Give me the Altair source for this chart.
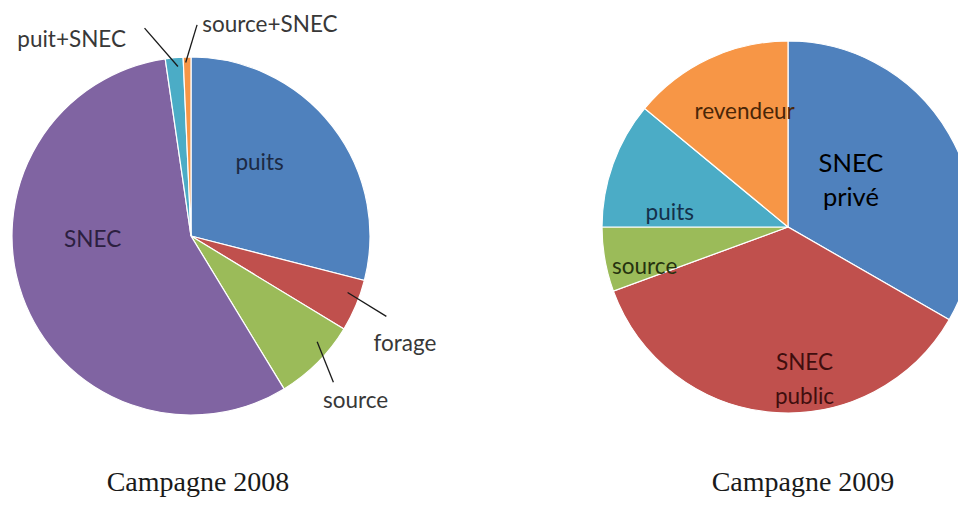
import math
import altair as alt
import pandas as pd

# ---------------- data ----------------
labels_2008 = ["puits", "forage", "source", "SNEC", "puit+SNEC", "source+SNEC"]
values_2008 = [29.0, 4.7, 7.6, 56.4, 1.6, 0.7]

labels_2009 = ["SNEC privé", "SNEC public", "source", "puits", "revendeur"]
values_2009 = [33.3, 36.1, 5.6, 11.0, 14.0]

titles = ["Campagne 2008", "Campagne 2009"]

# ---------------- styles / layout ----------------
colors_2008 = ["#4F81BD", "#C0504D", "#9BBB59", "#8064A2", "#4BACC6", "#F79646"]
colors_2009 = ["#4F81BD", "#C0504D", "#9BBB59", "#4BACC6", "#F79646"]

W, H = 950, 490
CX08, CY08, R08 = 183, 228, 179
CX09, CY09, R09 = 780, 219, 186
LINE_H = 34

# label placement: (angle offset from slice middle in deg, radius factor, font size, colour, text)
lay_2008 = {
    "puits": (-9.0, 0.56, 22.5, "#1c2a44", "puits"),
    "SNEC": (17.5, 0.55, 22.5, "#2c2040", "SNEC"),
    "forage": (4.0, 1.34, 22.5, "#383838", "forage"),
    "source": (0.0, 1.30, 22.5, "#383838", "source"),
    "puit+SNEC": (-26.0, 1.28, 22.5, "#383838", "puit+SNEC"),
    "source+SNEC": (21.75, 1.26, 22.5, "#383838", "source+SNEC"),
}
lead_2008 = {  # (ang off 1, r1, ang off 2, r2)
    "forage": (-3.0, 0.93, -0.5, 1.18),
    "source": (-5.0, 0.92, 0.75, 1.14),
    "puit+SNEC": (1.0, 0.95, -7.2, 1.19),
    "source+SNEC": (-0.5, 0.97, 2.9, 1.18),
}
lay_2009 = {
    "SNEC privé": (-6.3, 0.42, 25.5, "#000000", "SNEC\nprivé"),
    "SNEC public": (-11.0, 0.83, 22.5, "#3f0e0e", "SNEC\npublic"),
    "source": (-5.5, 0.80, 22.5, "#26330f", "source"),
    "puits": (-13.0, 0.64, 22.5, "#14304a", "puits"),
    "revendeur": (4.5, 0.66, 22.5, "#4a2608", "revendeur"),
}


def polar(cx, cy, ang, r):
    a = math.radians(ang)
    return cx + r * math.sin(a), cy - r * math.cos(a)


def mids(values):
    tot = sum(values)
    out, acc = [], 0.0
    for v in values:
        out.append((acc + v / 2) / tot * 360.0)
        acc += v
    return out


def pie(labels, values, colors, cx, cy, r):
    df = pd.DataFrame({"label": labels, "value": values, "idx": list(range(len(labels)))})
    return alt.Chart(df).mark_arc(outerRadius=r, stroke="white", strokeWidth=1.2).encode(
        theta=alt.Theta("value:Q", stack=True),
        color=alt.Color("label:N", scale=alt.Scale(domain=labels, range=colors), legend=None),
        order=alt.Order("idx:Q"),
        x=alt.value(cx),
        y=alt.value(cy),
    )


def label_rows(labels, values, lay, cx, cy, r):
    rows = []
    for lab, m in zip(labels, mids(values)):
        off, rf, fs, col, txt = lay[lab]
        x, y = polar(cx, cy, m + off, rf * r)
        nlines = txt.count("\n") + 1
        y -= (nlines - 1) * LINE_H / 2
        rows.append({"t": txt, "x": x, "y": y, "fs": fs, "c": col})
    return rows


def lead_rows(labels, values, lead, cx, cy, r):
    rows = []
    for lab, m in zip(labels, mids(values)):
        if lab not in lead:
            continue
        o1, r1, o2, r2 = lead[lab]
        x1, y1 = polar(cx, cy, m + o1, r1 * r)
        x2, y2 = polar(cx, cy, m + o2, r2 * r)
        rows.append({"x": x1, "y": y1, "x2": x2, "y2": y2})
    return rows


pie08 = pie(labels_2008, values_2008, colors_2008, CX08, CY08, R08)
pie09 = pie(labels_2009, values_2009, colors_2009, CX09, CY09, R09)

lab_df = pd.DataFrame(
    label_rows(labels_2008, values_2008, lay_2008, CX08, CY08, R08)
    + label_rows(labels_2009, values_2009, lay_2009, CX09, CY09, R09)
)
leaders_df = pd.DataFrame(lead_rows(labels_2008, values_2008, lead_2008, CX08, CY08, R08))

leaders = alt.Chart(leaders_df).mark_rule(color="#1a1a1a", strokeWidth=1.3).encode(
    x=alt.X("x:Q", scale=None, axis=None),
    y=alt.Y("y:Q", scale=None, axis=None),
    x2="x2:Q",
    y2="y2:Q",
)

texts = alt.Chart(lab_df).mark_text(
    font="Lato", align="center", baseline="middle", lineBreak="\n", lineHeight=LINE_H
).encode(
    x=alt.X("x:Q", scale=None, axis=None),
    y=alt.Y("y:Q", scale=None, axis=None),
    text="t:N",
    size=alt.Size("fs:Q", scale=None, legend=None),
    color=alt.Color("c:N", scale=None, legend=None),
)

title_df = pd.DataFrame({"t": titles, "x": [CX08 + 7, CX09 + 15], "y": [H - 7, H - 7]})
title_layer = alt.Chart(title_df).mark_text(
    font="Liberation Serif", fontSize=28, align="center", baseline="alphabetic", color="#1a1a1a"
).encode(
    x=alt.X("x:Q", scale=None, axis=None),
    y=alt.Y("y:Q", scale=None, axis=None),
    text="t:N",
)

chart = (
    alt.layer(pie08, pie09, leaders, texts, title_layer)
    .resolve_scale(theta="independent", color="independent")
    .properties(width=W, height=H, padding=0, autosize=alt.AutoSizeParams(type="none"))
    .configure_view(stroke=None)
)

chart.save("out.html", embed_options={"renderer": "svg", "actions": False})
